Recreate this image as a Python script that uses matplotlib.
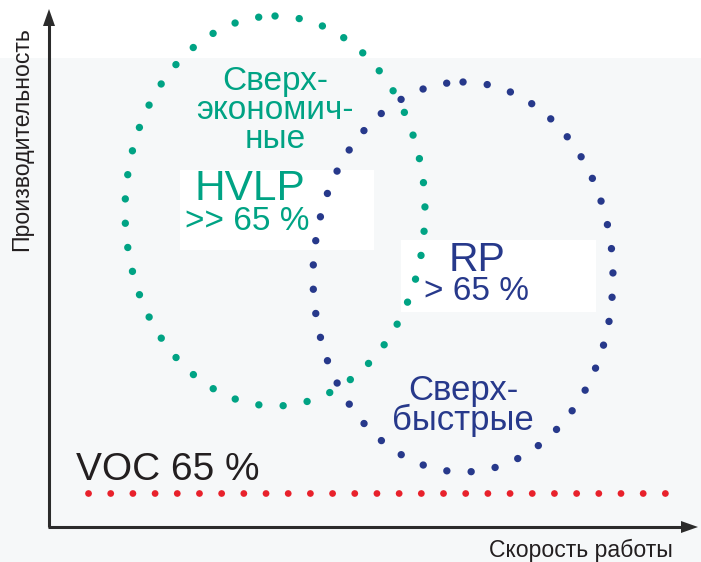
import matplotlib
matplotlib.use("Agg")
import matplotlib.pyplot as plt
from matplotlib.patches import Ellipse, Rectangle, Polygon

plt.rcParams['font.family'] = ['Liberation Sans', 'DejaVu Sans']

# ---- data (diagram, pixel-like coordinates) ----
groups = ["HVLP", "RP"]
group_colors = ["#00A384", "#27398B"]
center_x = [275, 463]
center_y = [211, 277]
width = [300, 300]
height = [390, 390]
voc_level = 493
voc_x = [88, 672]
voc_color = "#E8212B"

x_label = "Скорость работы"
y_label = "Производительность"

fig = plt.figure(figsize=(7.01, 5.62), dpi=100)
ax = fig.add_axes([0, 0, 1, 1])
ax.set_xlim(0, 701)
ax.set_ylim(562, 0)
ax.axis('off')

# background
ax.add_patch(Rectangle((0, 58), 701, 504, facecolor="#F6F8F9", edgecolor="none", zorder=0))

# white text boxes
ax.add_patch(Rectangle((180, 170), 194, 80, facecolor="white", edgecolor="none", zorder=1))
ax.add_patch(Rectangle((401, 240), 195, 72, facecolor="white", edgecolor="none", zorder=1))

# dotted ellipses
for cx, cy, w, h, c in zip(center_x, center_y, width, height, group_colors):
    e = Ellipse((cx, cy), w, h, fill=False, edgecolor=c, linewidth=5.3,
                linestyle=(0, (0.01, 3.3)), zorder=3)
    e.set_capstyle('round')
    ax.add_patch(e)

# VOC dotted line
ax.plot(voc_x, [voc_level, voc_level], color=voc_color, linewidth=4.9,
        linestyle=(0, (0.01, 3.25)), dash_capstyle='round', zorder=3)

# axes with arrows
axis_color = "#2B2B2B"
ax.plot([49, 49], [527, 22], color=axis_color, linewidth=2.2, zorder=4, solid_capstyle='butt')
ax.plot([48, 684], [527, 527], color=axis_color, linewidth=2.2, zorder=4, solid_capstyle='butt')
ax.add_patch(Polygon([[49, 9], [43, 26], [55, 26]], closed=True, facecolor=axis_color, edgecolor="none", zorder=4))
ax.add_patch(Polygon([[698, 527], [681, 521], [681, 533]], closed=True, facecolor=axis_color, edgecolor="none", zorder=4))

ax.text(22, 139, y_label, rotation=90, ha='center', va='center', fontsize=16.6, color="#231F20", zorder=5)
ax.text(581, 550, x_label, ha='center', va='center', fontsize=16.6, color="#231F20", zorder=5)

# texts green
g, b = group_colors
ax.text(275, 90, "Сверх-", ha='center', va='baseline', fontsize=24, color=g, zorder=5)
ax.text(275, 119, "экономич-", ha='center', va='baseline', fontsize=24, color=g, zorder=5)
ax.text(275, 148, "ные", ha='center', va='baseline', fontsize=24, color=g, zorder=5)
ax.text(194, 200, "HVLP", ha='left', va='baseline', fontsize=30.5, color=g, zorder=5)
ax.text(185, 230, ">> 65 %", ha='left', va='baseline', fontsize=24, color=g, zorder=5)

# texts blue
ax.text(449, 271, "RP", ha='left', va='baseline', fontsize=29.5, color=b, zorder=5)
ax.text(424, 300, "> 65 %", ha='left', va='baseline', fontsize=24, color=b, zorder=5)
ax.text(463, 400, "Сверх-", ha='center', va='baseline', fontsize=25, color=b, zorder=5)
ax.text(463, 430, "быстрые", ha='center', va='baseline', fontsize=25, color=b, zorder=5)

# VOC label
ax.text(76, 480, "VOC 65 %", ha='left', va='baseline', fontsize=28, color="#231F20", zorder=5)

fig.savefig("out.png", dpi=100)
